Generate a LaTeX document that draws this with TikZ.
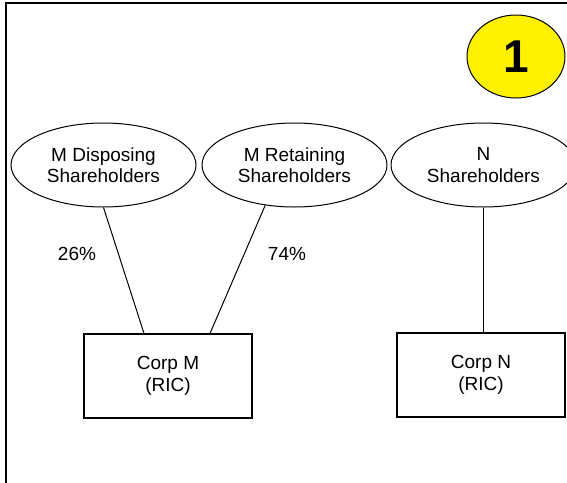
\documentclass[tikz,border=0pt]{standalone}
\usepackage{fontspec}
\setmainfont{Liberation Sans}
\usetikzlibrary{shapes.geometric, calc}

\begin{document}
\begin{tikzpicture}[x=1pt, y=1pt,
    holder/.style={draw, ellipse, line width=1pt, inner sep=0pt,
        minimum width=185, minimum height=84, align=center,
        font=\fontsize{19}{21.5}\selectfont},
    corp/.style={draw, rectangle, line width=1.2pt, inner sep=0pt,
        minimum width=168, minimum height=84, align=center,
        font=\fontsize{19}{21.5}\selectfont},
    share/.style={font=\fontsize{19}{21.5}\selectfont},
    link/.style={line width=1pt}]
    \useasboundingbox (0,0) rectangle (567,-482);
    \clip (0,0) rectangle (567,-482);

    % Page frame
    \draw[line width=2.5pt] (6,-500) -- (6,-3) -- (600,-3);

    % Step badge
    \node[draw, ellipse, fill=yellow, line width=1pt, inner sep=0pt,
        minimum width=98, minimum height=83,
        font=\fontsize{46}{46}\bfseries\selectfont] (badge) at (516,-56.5) {1};

    % Shareholder groups
    \node[holder] (dispM) at (103.5,-165) {M Disposing\\Shareholders};
    \node[holder] (retainM) at (294.5,-165) {M Retaining\\Shareholders};
    \node[holder] (holdN) at (483.5,-165) {N\\Shareholders};

    % Corporations
    \node[corp] (corpM) at (168,-376) {Corp M\\(RIC)};
    \node[corp] (corpN) at (481,-375) {Corp N\\(RIC)};

    % Ownership lines
    \draw[link] (dispM.south) -- ($(corpM.north)+(-24,0)$);
    \draw[link] (retainM.234) -- ($(corpM.north)+(42,0)$);
    \draw[link] (holdN.south) -- (holdN.south |- corpN.north);

    % Percentages
    \node[share] (pctDisp) at (77,-254) {26\%};
    \node[share] (pctRetain) at (287,-254) {74\%};
\end{tikzpicture}
\end{document}
